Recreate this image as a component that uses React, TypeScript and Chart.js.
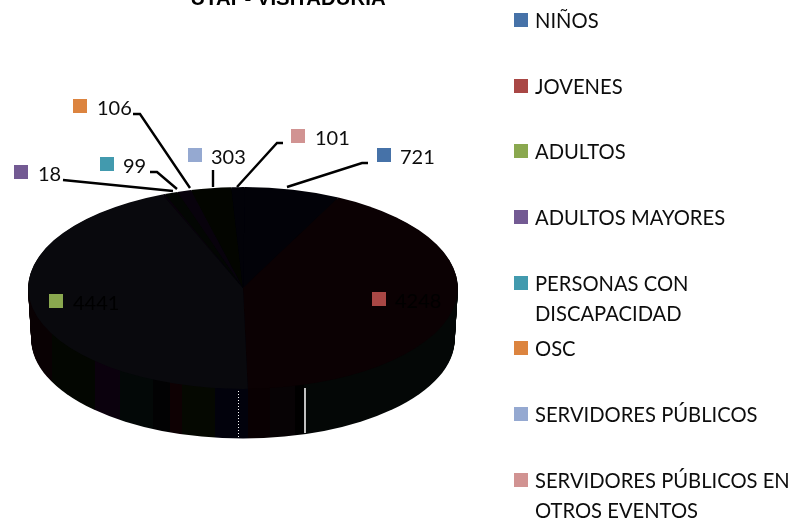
import React, { useEffect, useRef } from "react";
import { Chart, registerables } from "chart.js";

Chart.register(...registerables);

const categories = ["NIÑOS", "JOVENES", "ADULTOS", "ADULTOS MAYORES", "PERSONAS CON DISCAPACIDAD", "OSC", "SERVIDORES PÚBLICOS", "SERVIDORES PÚBLICOS EN OTROS EVENTOS"];
const values = [721, 4248, 4441, 18, 99, 106, 303, 101];
const keyColors = ["#4672a8", "#a94745", "#8aa84f", "#735a93", "#429aae", "#dc843f", "#95a9d1", "#d19392"];
const faceColors = ["#020208", "#0b0103", "#09090d", "#08020c", "#030603", "#08020c", "#030500", "#020208"];
const legendLines = [["NIÑOS"], ["JOVENES"], ["ADULTOS"], ["ADULTOS MAYORES"], ["PERSONAS CON", "DISCAPACIDAD"], ["OSC"], ["SERVIDORES PÚBLICOS"], ["SERVIDORES PÚBLICOS EN", "OTROS EVENTOS"]];
const legendRows = [20, 86, 151, 217, 283, 348, 414, 480];
const labelSwatchX = [377, 372, 49, 14, 100, 73, 188, 291];
const labelSwatchY = [148, 292, 294, 165, 157, 99, 148, 129];
const labelTextX = [400, 395, 73, 38, 123, 97, 211, 315];
const leaders: number[][][] = [
  [[368, 163], [362, 163], [287, 187]],
  [],
  [],
  [[63, 180], [173, 191]],
  [[150, 172], [157, 172], [177, 189]],
  [[133, 114], [140, 114], [190, 188]],
  [[213, 170], [213, 187]],
  [[283, 143], [277, 143], [237, 187]],
];
// vertical colour bands seen on the pie's side wall: [right edge x, colour]
const wallBands: [number, string][] = [
  [52, "#090103"], [95, "#030601"], [120, "#0b010d"], [153, "#030807"], [170, "#020203"],
  [182, "#0e0103"], [215, "#050801"], [248, "#02020c"], [270, "#090002"], [295, "#070305"],
  [304, "#000000"], [460, "#040706"],
];

const FONT = '"Lato", "Noto Sans", sans-serif';
const CX = 243, CY = 288, RX = 215, RY = 101, DEPTH = 51;

const piePlugin = {
  id: "squashedPie",
  afterLayout(chart: any) {
    const t = chart.titleBlock;
    if (t) { t.left = 0; t.right = 576; }
  },
  beforeDatasetsDraw(chart: any) {
    const ctx = chart.ctx;
    const arcs = chart.getDatasetMeta(0).data;
    const { x, y } = arcs[0].getProps(["x", "y"], true);
    // side wall
    const grad = ctx.createLinearGradient(0, 0, 796, 0);
    let prev = 0;
    wallBands.forEach(([edge, col]) => {
      grad.addColorStop(prev / 796, col);
      grad.addColorStop(edge / 796, col);
      prev = edge;
    });
    grad.addColorStop(1, wallBands[wallBands.length - 1][1]);
    ctx.save();
    ctx.fillStyle = grad;
    for (let d = DEPTH; d > 0; d--) {
      const s = 1 - (0.015 * d) / DEPTH;
      ctx.beginPath();
      ctx.ellipse(CX, CY + d, RX * s, RY * s, 0, 0, Math.PI * 2);
      ctx.fill();
    }
    ctx.restore();
    // white seams on the wall
    ctx.save();
    ctx.strokeStyle = "#fff";
    ctx.lineWidth = 1;
    ctx.setLineDash([1, 2]);
    ctx.beginPath();
    ctx.moveTo(238.5, 391);
    ctx.lineTo(238.5, 438);
    ctx.stroke();
    ctx.setLineDash([]);
    ctx.lineWidth = 1.5;
    ctx.beginPath();
    ctx.moveTo(305, 388);
    ctx.lineTo(305, 433);
    ctx.stroke();
    ctx.restore();
    // top face: the library's own arcs, squashed
    ctx.save();
    ctx.translate(CX, CY);
    ctx.scale(1, RY / RX);
    ctx.translate(-x, -y);
    arcs.forEach((a: any) => a.draw(ctx));
    ctx.restore();
  },
  beforeDatasetDraw() { return false; },
  afterDraw(chart: any) {
    const ctx = chart.ctx;
    ctx.save();
    ctx.textBaseline = "middle";
    ctx.textAlign = "left";
    // leaders
    ctx.strokeStyle = "#000";
    ctx.lineWidth = 2.4;
    leaders.forEach((pts) => {
      if (!pts.length) return;
      ctx.beginPath();
      pts.forEach((p, i) => (i ? ctx.lineTo(p[0], p[1]) : ctx.moveTo(p[0], p[1])));
      ctx.stroke();
    });
    // data labels
    values.forEach((v, i) => {
      ctx.fillStyle = keyColors[i];
      ctx.fillRect(labelSwatchX[i], labelSwatchY[i], 14, 14);
      ctx.fillStyle = v > 1000 ? "#000000" : "#0d0d0d";
      ctx.font = `20px ${FONT}`;
      ctx.fillText(String(v), labelTextX[i], labelSwatchY[i] + 10);
    });
    // legend
    categories.forEach((_, i) => {
      const y = legendRows[i];
      ctx.fillStyle = keyColors[i];
      ctx.fillRect(514, y - 7, 14, 14);
      ctx.fillStyle = "#0d0d0d";
      ctx.font = `20.2px ${FONT}`;
      legendLines[i].forEach((line, j) => ctx.fillText(line, 535, y + 1.5 + j * 30));
    });
    ctx.restore();
  },
};

export default function App() {
  const ref = useRef<HTMLCanvasElement>(null);
  useEffect(() => {
    document.body.style.margin = "0";
    const chart = new Chart(ref.current!, {
      type: "pie",
      data: {
        labels: categories,
        datasets: [{ data: values, backgroundColor: faceColors, borderWidth: 0 }],
      },
      options: {
        responsive: false,
        animation: false,
        rotation: 0.5,
        layout: { padding: { left: 28, right: 338, top: 0, bottom: 23 } },
        plugins: {
          legend: { display: false },
          tooltip: { enabled: false },
          title: {
            display: true,
            text: "UTAP- VISITADURÍA",
            color: "#000",
            font: { family: '"Liberation Sans", Arial, sans-serif', size: 20.4, weight: "bold", lineHeight: 1.2 },
            padding: { top: -13, bottom: 61 },
          },
        },
      },
      plugins: [piePlugin],
    } as any);
    return () => chart.destroy();
  }, []);
  return <canvas ref={ref} width={796} height={525} style={{ display: "block" }} />;
}
